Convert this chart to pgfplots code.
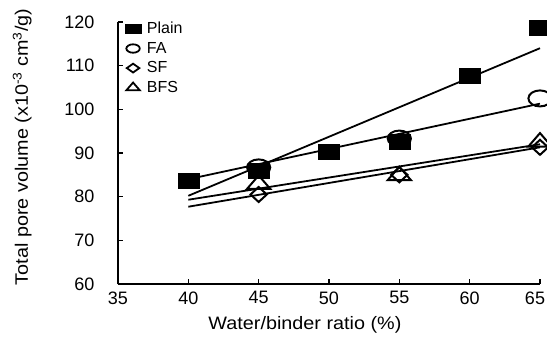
\documentclass[border=0pt]{standalone}
\usepackage{fontspec}
\setmainfont{Liberation Sans}
\newfontfamily\labelfont{Liberation Sans}[FakeStretch=1.1]
\usepackage{pgfplots}
\pgfplotsset{compat=1.18}
\begin{document}
\begin{tikzpicture}
\path[use as bounding box] (-118bp,-59bp) rectangle (429bp,284bp);
\begin{axis}[
  at={(0,0)}, anchor=south west,
  scale only axis, width=422bp, height=262bp,
  xmin=35, xmax=65, ymin=60, ymax=120,
  xtick={35,40,...,65}, ytick={60,70,...,120},
  xticklabels={35,40,45,50,55,60,{\hspace*{-10bp}65}},
  axis x line*=bottom, axis y line*=left,
  axis line style={line width=1.6pt, -},
  tick align=inside, major tick length=5bp,
  tick style={line width=1.4pt, black},
  /pgf/number format/assume math mode=true,
  ticklabel style={font=\fontsize{18bp}{20bp}\selectfont},
  yticklabel style={anchor=east, xshift=-20bp},
  xticklabel shift=4bp,
  xlabel={Water/binder ratio (\%)},
  ylabel={Total pore volume (x10\textsuperscript{-3} cm\textsuperscript{3}/g)},
  label style={font=\labelfont\fontsize{18bp}{20bp}\selectfont},
  xlabel style={at={(axis description cs:0.443,0)}, anchor=base, yshift=-45bp},
  ylabel style={at={(axis description cs:-0.2133,0.523)}, anchor=base, rotate=0},
  clip=false,
  legend style={draw=none, fill=none, at={(axis description cs:0,1)}, anchor=north west,
    xshift=7bp, yshift=2bp, inner sep=0pt, row sep=3bp,
    font=\fontsize{16bp}{18bp}\selectfont, column sep=4bp},
  legend cell align=left,
  legend image code/.code={\draw[#1] plot coordinates {(8bp,0bp)};},
]
\addlegendimage{only marks, mark=square*, mark size=4.5bp, mark options={xscale=1.75}}
\addlegendentry{Plain}
\addlegendimage{only marks, mark=o, mark size=4.2bp, mark options={xscale=1.6, line width=1.8pt}}
\addlegendentry{FA}
\addlegendimage{only marks, mark=diamond, mark size=4.4bp, mark options={xscale=1.9, line width=1.8pt}}
\addlegendentry{SF}
\addlegendimage{only marks, mark=triangle, mark size=5.2bp, mark options={xscale=1.5, line width=1.8pt}}
\addlegendentry{BFS}

% fitted lines
\addplot[black, line width=1.8pt, forget plot] coordinates {(40,80.2) (65,114.0)};
\addplot[black, line width=1.8pt, forget plot] coordinates {(40,84.0) (65,101.3)};
\addplot[black, line width=1.8pt, forget plot] coordinates {(40,79.3) (65,92.0)};
\addplot[black, line width=1.8pt, forget plot] coordinates {(40,77.7) (65,91.3)};

% data
\addplot[only marks, mark=triangle, mark size=9bp, mark options={xscale=1.5, line width=2pt, black}, forget plot]
  coordinates {(45,82.8) (55,84.8) (65,92.5)};
\addplot[only marks, mark=diamond, mark size=7.5bp, mark options={xscale=1.45, line width=2pt, black}, forget plot]
  coordinates {(45,80.5) (55,85.0) (65,91.3)};
\addplot[only marks, mark=o, mark size=8bp, mark options={xscale=1.45, line width=2pt, black}, forget plot]
  coordinates {(45,86.7) (55,93.3) (65,102.5)};
\addplot[only marks, mark=square*, mark size=7.5bp, mark options={xscale=1.4, black}, forget plot]
  coordinates {(40,83.7) (45,86.0) (50,90.2) (55,92.5) (60,107.7) (65,118.8)};
\end{axis}
\end{tikzpicture}
\end{document}
